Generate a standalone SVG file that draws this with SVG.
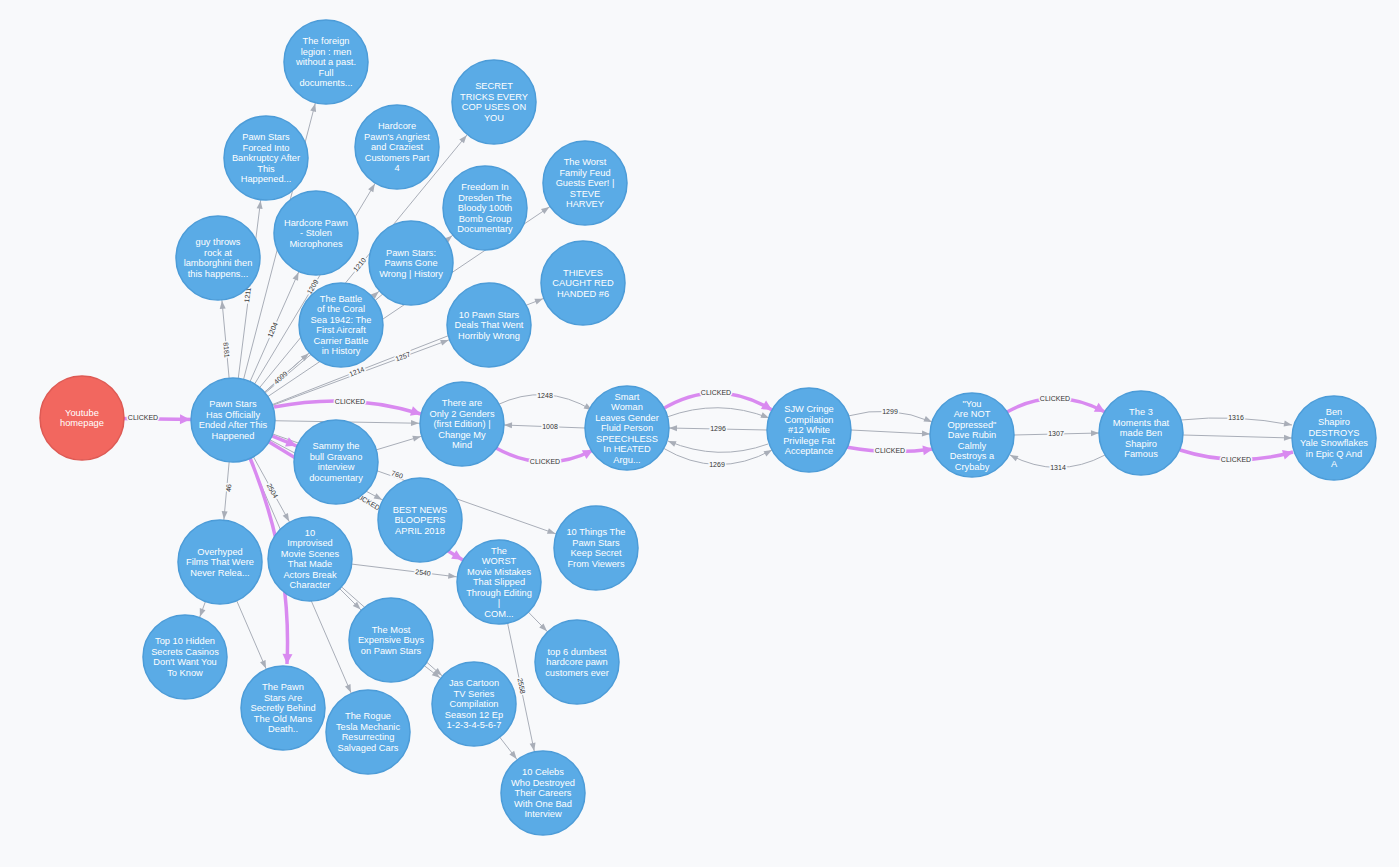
<svg xmlns="http://www.w3.org/2000/svg" width="1399" height="867" viewBox="0 0 1399 867">
<style>
.n circle{fill:#5AABE6;stroke:#4C9CD8;stroke-width:1.5}
.n.r circle{fill:#F2675F;stroke:#DE5A54}
.n text{font-family:"Liberation Sans",Arial,sans-serif;font-size:9.3px;fill:#fff;text-anchor:middle}
.g{stroke:#A9AEB8;stroke-width:1;fill:none}
.p{stroke:#D98AF0;stroke-width:3.5;fill:none}
.l{font-family:"Liberation Sans",Arial,sans-serif;font-size:7px;fill:#333;text-anchor:middle;stroke:#F8F9FB;stroke-width:3;paint-order:stroke}
</style>
<defs>
<marker id="ag" markerUnits="userSpaceOnUse" markerWidth="60" markerHeight="8" refX="51" refY="3" orient="auto" overflow="visible"><path d="M0,0L8,3L0,6z" fill="#A9AEB8"/></marker>
<marker id="age" markerUnits="userSpaceOnUse" markerWidth="10" markerHeight="8" refX="8" refY="3" orient="auto" overflow="visible"><path d="M0,0L8,3L0,6z" fill="#A9AEB8"/></marker>
<marker id="ap" markerUnits="userSpaceOnUse" markerWidth="60" markerHeight="12" refX="53" refY="5" orient="auto" overflow="visible"><path d="M0,0L10,5L0,10z" fill="#D98AF0"/></marker>
<marker id="ape" markerUnits="userSpaceOnUse" markerWidth="12" markerHeight="12" refX="10" refY="5" orient="auto" overflow="visible"><path d="M0,0L10,5L0,10z" fill="#D98AF0"/></marker>
</defs>
<rect width="1399" height="867" fill="#F8F9FB"/>
<g id="edges">
<line class="g" x1="233" y1="420" x2="218" y2="258" marker-end="url(#ag)"/>
<line class="g" x1="233" y1="420" x2="266" y2="158" marker-end="url(#ag)"/>
<line class="g" x1="233" y1="420" x2="326" y2="62" marker-end="url(#ag)"/>
<line class="g" x1="233" y1="420" x2="397" y2="147" marker-end="url(#ag)"/>
<line class="g" x1="233" y1="420" x2="316" y2="233" marker-end="url(#ag)"/>
<line class="g" x1="233" y1="420" x2="494" y2="102" marker-end="url(#ag)"/>
<line class="g" x1="233" y1="420" x2="485" y2="208" marker-end="url(#ag)"/>
<line class="g" x1="233" y1="420" x2="585" y2="183" marker-end="url(#ag)"/>
<line class="g" x1="233" y1="420" x2="411" y2="263" marker-end="url(#ag)"/>
<line class="g" x1="233" y1="420" x2="341" y2="325" marker-end="url(#ag)"/>
<line class="g" x1="233" y1="420" x2="583" y2="283" marker-end="url(#ag)"/>
<line class="g" x1="233" y1="420" x2="489" y2="325" marker-end="url(#ag)"/>
<line class="g" x1="233" y1="420" x2="462" y2="424" marker-end="url(#ag)"/>
<line class="g" x1="336" y1="462" x2="462" y2="424" marker-end="url(#ag)"/>
<line class="g" x1="233" y1="420" x2="596" y2="548" marker-end="url(#ag)"/>
<line class="g" x1="233" y1="420" x2="420" y2="520" marker-end="url(#ag)"/>
<line class="g" x1="233" y1="420" x2="220" y2="562" marker-end="url(#ag)"/>
<line class="g" x1="220" y1="562" x2="185" y2="657" marker-end="url(#ag)"/>
<line class="g" x1="220" y1="562" x2="283" y2="708" marker-end="url(#ag)"/>
<line class="g" x1="233" y1="420" x2="310" y2="559" marker-end="url(#ag)"/>
<line class="g" x1="310" y1="559" x2="499" y2="582" marker-end="url(#ag)"/>
<line class="g" x1="233" y1="420" x2="499" y2="582" />
<line class="g" x1="310" y1="559" x2="391" y2="640" marker-end="url(#ag)"/>
<line class="g" x1="391" y1="640" x2="474" y2="704" marker-end="url(#ag)"/>
<line class="g" x1="310" y1="559" x2="474" y2="704" marker-end="url(#ag)"/>
<line class="g" x1="233" y1="420" x2="368" y2="732" marker-end="url(#ag)"/>
<line class="g" x1="499" y1="582" x2="577" y2="662" marker-end="url(#ag)"/>
<line class="g" x1="499" y1="582" x2="543" y2="793" marker-end="url(#ag)"/>
<line class="g" x1="474" y1="704" x2="543" y2="793" marker-end="url(#ag)"/>
<line class="p" x1="82" y1="418" x2="233" y2="420" marker-end="url(#ap)"/>
<path class="p" d="M274,407 Q350,392 421,414" marker-end="url(#ape)"/>
<line class="p" x1="233" y1="420" x2="336" y2="462" marker-end="url(#ap)"/>
<path class="p" d="M250,458 Q292,560 287,664" marker-end="url(#ape)"/>
<line class="p" x1="233" y1="420" x2="499" y2="582" marker-end="url(#ap)"/>
<path class="g" d="M497,405 Q545,382 592,410" marker-end="url(#age)"/>
<line class="g" x1="585" y1="428" x2="504" y2="425" marker-end="url(#age)"/>
<path class="p" d="M496,448 Q545,475 593,450" marker-end="url(#ape)"/>
<path class="p" d="M661,410 Q716,376 772,410" marker-end="url(#ape)"/>
<path class="g" d="M667,417 Q718,398 769,418" marker-end="url(#age)"/>
<line class="g" x1="767" y1="430" x2="669" y2="428" marker-end="url(#age)"/>
<path class="g" d="M663,448 Q717,480 772,450" marker-end="url(#age)"/>
<path class="g" d="M768,444 Q718,462 668,441" marker-end="url(#age)"/>
<path class="g" d="M848,416 Q890,404 932,422" marker-end="url(#age)"/>
<line class="g" x1="851" y1="430" x2="930" y2="434" marker-end="url(#age)"/>
<path class="p" d="M846,447 Q890,455 933,449" marker-end="url(#ape)"/>
<path class="p" d="M1007,412 Q1055,385 1105,412" marker-end="url(#ape)"/>
<line class="g" x1="1014" y1="435" x2="1099" y2="433" marker-end="url(#age)"/>
<path class="g" d="M1105,455 Q1058,480 1010,455" marker-end="url(#age)"/>
<path class="g" d="M1181,420 Q1236,414 1292,425" marker-end="url(#age)"/>
<line class="g" x1="1183" y1="435" x2="1292" y2="438" marker-end="url(#age)"/>
<path class="p" d="M1180,450 Q1236,468 1293,452" marker-end="url(#ape)"/>
<text class="l" x="143" y="420">CLICKED</text>
<text class="l" x="350" y="404">CLICKED</text>
<text class="l" transform="rotate(84.7 226 350)" x="226" y="352">8181</text>
<text class="l" transform="rotate(-82.8 248 295)" x="248" y="297">1211</text>
<text class="l" transform="rotate(-66 273 330)" x="273" y="332">1204</text>
<text class="l" transform="rotate(-59 313 287)" x="313" y="289">1209</text>
<text class="l" transform="rotate(-50.6 360 265)" x="360" y="267">1210</text>
<text class="l" transform="rotate(-41.3 281 378)" x="281" y="380">4099</text>
<text class="l" transform="rotate(-20.4 403 357)" x="403" y="359">1257</text>
<text class="l" transform="rotate(-21.4 357 372)" x="357" y="374">1214</text>
<text class="l" transform="rotate(-84.8 229 488)" x="229" y="490">46</text>
<text class="l" transform="rotate(61 272 491)" x="272" y="493">2504</text>
<text class="l" transform="rotate(19.4 397 475)" x="397" y="477">760</text>
<text class="l" transform="rotate(31 366 501)" x="366" y="503">CLICKED</text>
<text class="l" transform="rotate(7 423 573)" x="423" y="575">2540</text>
<text class="l" transform="rotate(78 521 686)" x="521" y="688">2558</text>
<text class="l" x="545" y="398">1248</text>
<text class="l" x="550" y="429">1008</text>
<text class="l" x="545" y="464">CLICKED</text>
<text class="l" x="716" y="395">CLICKED</text>
<text class="l" x="718" y="431">1296</text>
<text class="l" x="717" y="467">1269</text>
<text class="l" x="890" y="414">1299</text>
<text class="l" x="890" y="453">CLICKED</text>
<text class="l" x="1055" y="401">CLICKED</text>
<text class="l" x="1056" y="436">1307</text>
<text class="l" x="1058" y="470">1314</text>
<text class="l" x="1236" y="420">1316</text>
<text class="l" x="1236" y="462">CLICKED</text>
</g>
<g id="n-yt" class="n r"><circle cx="82" cy="418" r="42"/><text x="82" y="415.75"><tspan x="82">Youtube</tspan><tspan x="82" dy="10.5">homepage</tspan></text></g>
<g id="n-center" class="n"><circle cx="233" cy="420" r="42"/><text x="233" y="407.25"><tspan x="233">Pawn Stars</tspan><tspan x="233" dy="10.5">Has Officially</tspan><tspan x="233" dy="10.5">Ended After This</tspan><tspan x="233" dy="10.5">Happened</tspan></text></g>
<g id="n-guy" class="n"><circle cx="218" cy="258" r="42"/><text x="218" y="245.25"><tspan x="218">guy throws</tspan><tspan x="218" dy="10.5">rock at</tspan><tspan x="218" dy="10.5">lamborghini then</tspan><tspan x="218" dy="10.5">this happens...</tspan></text></g>
<g id="n-forced" class="n"><circle cx="266" cy="158" r="42"/><text x="266" y="140"><tspan x="266">Pawn Stars</tspan><tspan x="266" dy="10.5">Forced Into</tspan><tspan x="266" dy="10.5">Bankruptcy After</tspan><tspan x="266" dy="10.5">This</tspan><tspan x="266" dy="10.5">Happened...</tspan></text></g>
<g id="n-foreign" class="n"><circle cx="326" cy="62" r="42"/><text x="326" y="44"><tspan x="326">The foreign</tspan><tspan x="326" dy="10.5">legion : men</tspan><tspan x="326" dy="10.5">without a past.</tspan><tspan x="326" dy="10.5">Full</tspan><tspan x="326" dy="10.5">documents...</tspan></text></g>
<g id="n-angriest" class="n"><circle cx="397" cy="147" r="42"/><text x="397" y="129"><tspan x="397">Hardcore</tspan><tspan x="397" dy="10.5">Pawn's Angriest</tspan><tspan x="397" dy="10.5">and Craziest</tspan><tspan x="397" dy="10.5">Customers Part</tspan><tspan x="397" dy="10.5">4</tspan></text></g>
<g id="n-stolen" class="n"><circle cx="316" cy="233" r="42"/><text x="316" y="225.5"><tspan x="316">Hardcore Pawn</tspan><tspan x="316" dy="10.5">- Stolen</tspan><tspan x="316" dy="10.5">Microphones</tspan></text></g>
<g id="n-secret" class="n"><circle cx="494" cy="102" r="42"/><text x="494" y="89.25"><tspan x="494">SECRET</tspan><tspan x="494" dy="10.5">TRICKS EVERY</tspan><tspan x="494" dy="10.5">COP USES ON</tspan><tspan x="494" dy="10.5">YOU</tspan></text></g>
<g id="n-freedom" class="n"><circle cx="485" cy="208" r="42"/><text x="485" y="190"><tspan x="485">Freedom In</tspan><tspan x="485" dy="10.5">Dresden The</tspan><tspan x="485" dy="10.5">Bloody 100th</tspan><tspan x="485" dy="10.5">Bomb Group</tspan><tspan x="485" dy="10.5">Documentary</tspan></text></g>
<g id="n-feud" class="n"><circle cx="585" cy="183" r="42"/><text x="585" y="165"><tspan x="585">The Worst</tspan><tspan x="585" dy="10.5">Family Feud</tspan><tspan x="585" dy="10.5">Guests Ever! |</tspan><tspan x="585" dy="10.5">STEVE</tspan><tspan x="585" dy="10.5">HARVEY</tspan></text></g>
<g id="n-pgw" class="n"><circle cx="411" cy="263" r="42"/><text x="411" y="255.5"><tspan x="411">Pawn Stars:</tspan><tspan x="411" dy="10.5">Pawns Gone</tspan><tspan x="411" dy="10.5">Wrong | History</tspan></text></g>
<g id="n-coral" class="n"><circle cx="341" cy="325" r="42"/><text x="341" y="301.75"><tspan x="341">The Battle</tspan><tspan x="341" dy="10.5">of the Coral</tspan><tspan x="341" dy="10.5">Sea 1942: The</tspan><tspan x="341" dy="10.5">First Aircraft</tspan><tspan x="341" dy="10.5">Carrier Battle</tspan><tspan x="341" dy="10.5">in History</tspan></text></g>
<g id="n-thieves" class="n"><circle cx="583" cy="283" r="42"/><text x="583" y="275.5"><tspan x="583">THIEVES</tspan><tspan x="583" dy="10.5">CAUGHT RED</tspan><tspan x="583" dy="10.5">HANDED #6</tspan></text></g>
<g id="n-deals" class="n"><circle cx="489" cy="325" r="42"/><text x="489" y="317.5"><tspan x="489">10 Pawn Stars</tspan><tspan x="489" dy="10.5">Deals That Went</tspan><tspan x="489" dy="10.5">Horribly Wrong</tspan></text></g>
<g id="n-there" class="n"><circle cx="462" cy="424" r="42"/><text x="462" y="406"><tspan x="462">There are</tspan><tspan x="462" dy="10.5">Only 2 Genders</tspan><tspan x="462" dy="10.5">(first Edition) |</tspan><tspan x="462" dy="10.5">Change My</tspan><tspan x="462" dy="10.5">Mind</tspan></text></g>
<g id="n-smart" class="n"><circle cx="627" cy="428" r="42"/><text x="627" y="399.5"><tspan x="627">Smart</tspan><tspan x="627" dy="10.5">Woman</tspan><tspan x="627" dy="10.5">Leaves Gender</tspan><tspan x="627" dy="10.5">Fluid Person</tspan><tspan x="627" dy="10.5">SPEECHLESS</tspan><tspan x="627" dy="10.5">In HEATED</tspan><tspan x="627" dy="10.5">Argu...</tspan></text></g>
<g id="n-sjw" class="n"><circle cx="809" cy="430" r="42"/><text x="809" y="412"><tspan x="809">SJW Cringe</tspan><tspan x="809" dy="10.5">Compilation</tspan><tspan x="809" dy="10.5">#12 White</tspan><tspan x="809" dy="10.5">Privilege Fat</tspan><tspan x="809" dy="10.5">Acceptance</tspan></text></g>
<g id="n-you" class="n"><circle cx="972" cy="435" r="42"/><text x="972" y="406.5"><tspan x="972">"You</tspan><tspan x="972" dy="10.5">Are NOT</tspan><tspan x="972" dy="10.5">Oppressed"</tspan><tspan x="972" dy="10.5">Dave Rubin</tspan><tspan x="972" dy="10.5">Calmly</tspan><tspan x="972" dy="10.5">Destroys a</tspan><tspan x="972" dy="10.5">Crybaby</tspan></text></g>
<g id="n-three" class="n"><circle cx="1141" cy="433" r="42"/><text x="1141" y="415"><tspan x="1141">The 3</tspan><tspan x="1141" dy="10.5">Moments that</tspan><tspan x="1141" dy="10.5">made Ben</tspan><tspan x="1141" dy="10.5">Shapiro</tspan><tspan x="1141" dy="10.5">Famous</tspan></text></g>
<g id="n-ben" class="n"><circle cx="1334" cy="438" r="42"/><text x="1334" y="414.75"><tspan x="1334">Ben</tspan><tspan x="1334" dy="10.5">Shapiro</tspan><tspan x="1334" dy="10.5">DESTROYS</tspan><tspan x="1334" dy="10.5">Yale Snowflakes</tspan><tspan x="1334" dy="10.5">in Epic Q And</tspan><tspan x="1334" dy="10.5">A</tspan></text></g>
<g id="n-sammy" class="n"><circle cx="336" cy="462" r="42"/><text x="336" y="449.25"><tspan x="336">Sammy the</tspan><tspan x="336" dy="10.5">bull Gravano</tspan><tspan x="336" dy="10.5">interview</tspan><tspan x="336" dy="10.5">documentary</tspan></text></g>
<g id="n-best" class="n"><circle cx="420" cy="520" r="42"/><text x="420" y="512.5"><tspan x="420">BEST NEWS</tspan><tspan x="420" dy="10.5">BLOOPERS</tspan><tspan x="420" dy="10.5">APRIL 2018</tspan></text></g>
<g id="n-things" class="n"><circle cx="596" cy="548" r="42"/><text x="596" y="535.25"><tspan x="596">10 Things The</tspan><tspan x="596" dy="10.5">Pawn Stars</tspan><tspan x="596" dy="10.5">Keep Secret</tspan><tspan x="596" dy="10.5">From Viewers</tspan></text></g>
<g id="n-worst" class="n"><circle cx="499" cy="582" r="42"/><text x="499" y="553.5"><tspan x="499">The</tspan><tspan x="499" dy="10.5">WORST</tspan><tspan x="499" dy="10.5">Movie Mistakes</tspan><tspan x="499" dy="10.5">That Slipped</tspan><tspan x="499" dy="10.5">Through Editing</tspan><tspan x="499" dy="10.5">|</tspan><tspan x="499" dy="10.5">COM...</tspan></text></g>
<g id="n-over" class="n"><circle cx="220" cy="562" r="42"/><text x="220" y="554.5"><tspan x="220">Overhyped</tspan><tspan x="220" dy="10.5">Films That Were</tspan><tspan x="220" dy="10.5">Never Relea...</tspan></text></g>
<g id="n-impro" class="n"><circle cx="310" cy="559" r="42"/><text x="310" y="535.75"><tspan x="310">10</tspan><tspan x="310" dy="10.5">Improvised</tspan><tspan x="310" dy="10.5">Movie Scenes</tspan><tspan x="310" dy="10.5">That Made</tspan><tspan x="310" dy="10.5">Actors Break</tspan><tspan x="310" dy="10.5">Character</tspan></text></g>
<g id="n-top10" class="n"><circle cx="185" cy="657" r="42"/><text x="185" y="644.25"><tspan x="185">Top 10 Hidden</tspan><tspan x="185" dy="10.5">Secrets Casinos</tspan><tspan x="185" dy="10.5">Don't Want You</tspan><tspan x="185" dy="10.5">To Know</tspan></text></g>
<g id="n-secretly" class="n"><circle cx="283" cy="708" r="42"/><text x="283" y="690"><tspan x="283">The Pawn</tspan><tspan x="283" dy="10.5">Stars Are</tspan><tspan x="283" dy="10.5">Secretly Behind</tspan><tspan x="283" dy="10.5">The Old Mans</tspan><tspan x="283" dy="10.5">Death..</tspan></text></g>
<g id="n-most" class="n"><circle cx="391" cy="640" r="42"/><text x="391" y="632.5"><tspan x="391">The Most</tspan><tspan x="391" dy="10.5">Expensive Buys</tspan><tspan x="391" dy="10.5">on Pawn Stars</tspan></text></g>
<g id="n-rogue" class="n"><circle cx="368" cy="732" r="42"/><text x="368" y="719.25"><tspan x="368">The Rogue</tspan><tspan x="368" dy="10.5">Tesla Mechanic</tspan><tspan x="368" dy="10.5">Resurrecting</tspan><tspan x="368" dy="10.5">Salvaged Cars</tspan></text></g>
<g id="n-jas" class="n"><circle cx="474" cy="704" r="42"/><text x="474" y="686"><tspan x="474">Jas Cartoon</tspan><tspan x="474" dy="10.5">TV Series</tspan><tspan x="474" dy="10.5">Compilation</tspan><tspan x="474" dy="10.5">Season 12 Ep</tspan><tspan x="474" dy="10.5">1-2-3-4-5-6-7</tspan></text></g>
<g id="n-top6" class="n"><circle cx="577" cy="662" r="42"/><text x="577" y="654.5"><tspan x="577">top 6 dumbest</tspan><tspan x="577" dy="10.5">hardcore pawn</tspan><tspan x="577" dy="10.5">customers ever</tspan></text></g>
<g id="n-celebs" class="n"><circle cx="543" cy="793" r="42"/><text x="543" y="775"><tspan x="543">10 Celebs</tspan><tspan x="543" dy="10.5">Who Destroyed</tspan><tspan x="543" dy="10.5">Their Careers</tspan><tspan x="543" dy="10.5">With One Bad</tspan><tspan x="543" dy="10.5">Interview</tspan></text></g>
</svg>
